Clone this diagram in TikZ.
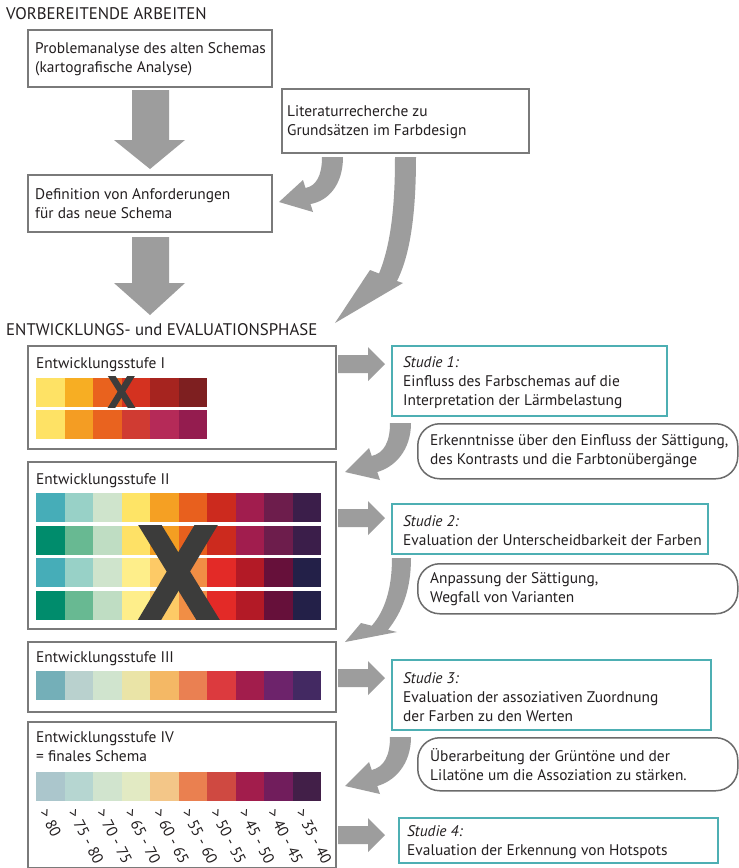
\documentclass[tikz,border=0pt]{standalone}
\usepackage{fontspec}
\setmainfont{PT Sans}

\definecolor{ink}{HTML}{231F20}
\definecolor{boxgray}{HTML}{7A7A7A}
\definecolor{studyteal}{HTML}{4DAFB3}
\definecolor{notegray}{HTML}{6B6B6B}
\definecolor{arrowgray}{HTML}{9D9D9D}
\definecolor{crossdark}{HTML}{3C3C3B}

% one row of colour swatches: x, y, list of HTML colours
\newcommand\swatchrow[3]{%
  \foreach \h [count=\i from 0] in {#3} {%
    \definecolor{swatch}{HTML}{\h}%
    \fill[swatch] ({#1+28.5*\i},#2) rectangle ++(28.5,29);
  }%
}

\begin{document}
\begin{tikzpicture}[x=1pt, y=-1pt,
  every node/.style={text=ink, font=\fontsize{15.4}{19}\selectfont},
  plainbox/.style={draw=boxgray, line width=1.8pt, anchor=north west, inner sep=0pt},
  stagebox/.style={draw=boxgray, line width=2pt, anchor=north west, inner sep=0pt},
  studybox/.style={draw=studyteal, line width=2pt, anchor=north west, inner sep=0pt},
  notebox/.style={draw=notegray, line width=1.5pt, rounded corners=22pt, anchor=north west, inner sep=0pt},
  boxtext/.style={anchor=west, align=left, inner sep=0pt},
  heading/.style={anchor=base west, inner sep=0pt},
  section/.style={anchor=base west, inner sep=0pt, font=\fontsize{16.8}{20}\selectfont},
  blockarrow/.style={fill=arrowgray, draw=none},
  cross/.style={draw=crossdark, line cap=butt}
]
\useasboundingbox (0,0) rectangle (739,868);
\fill[white] (0,0) rectangle (739,868);

% ---------- preparatory work ----------
\node[section] (prep) at (6,19) {VORBEREITENDE ARBEITEN};

\node[plainbox, minimum width=244pt, minimum height=57pt] (prob) at (27,29) {};
\node[boxtext] (probtxt) at ([xshift=8pt,yshift=-1pt]prob.west) {Problemanalyse des alten Schemas\\(kartografische Analyse)};

\node[plainbox, minimum width=247pt, minimum height=64pt] (lit) at (281,88) {};
\node[boxtext] (littxt) at ([xshift=6pt,yshift=-1pt]lit.west) {Literaturrecherche zu\\Grundsätzen im Farbdesign};

\node[plainbox, minimum width=244pt, minimum height=57pt] (req) at (27,174) {};
\node[boxtext] (reqtxt) at ([xshift=8pt]req.west) {Definition von Anforderungen\\für das neue Schema};

% straight block arrows
\fill[blockarrow] (132,90) -- (169,90) -- (169,140) -- (185,140) -- (150,169) -- (114,140) -- (132,140) -- cycle;
\fill[blockarrow] (132,237) -- (169,237) -- (169,283) -- (185,283) -- (150,315) -- (114,283) -- (132,283) -- cycle;

% bent arrows leaving the literature box
\fill[blockarrow] (322,157) .. controls (322,176) and (316,186) .. (305.5,188) -- (303,180) -- (279,202) -- (313,212) -- (310.5,204) .. controls (328,201) and (343,185) .. (343,157) -- cycle;
\fill[blockarrow] (395,157) .. controls (395,200) and (392,242) .. (379,273.5) -- (370,270) -- (335,323) -- (403,283) -- (397,281) .. controls (410,255) and (416,215) .. (416,157) -- cycle;

% ---------- development and evaluation ----------
\node[section] (dev) at (6,335) {ENTWICKLUNGS- und EVALUATIONSPHASE};

% stage I
\node[stagebox, minimum width=308pt, minimum height=103pt] (st1) at (27,345) {};
\node[heading] (st1t) at (36,368) {Entwicklungsstufe I};
\swatchrow{36}{378}{FEE265,F7AE23,E9621E,D43220,A6241F,7E1F20}
\swatchrow{36}{410}{FEE265,F49D23,E9631F,D03B32,B52A58,941C4F}
\begin{scope}
  \clip (100,376) rectangle (145,407);
  \draw[cross, line width=6.5pt] (109.8,373) -- (132.9,410);
  \draw[cross, line width=6.5pt] (132.9,373) -- (110.1,410);
\end{scope}

% stage II
\node[stagebox, minimum width=308pt, minimum height=167pt] (st2) at (27,461) {};
\node[heading] (st2t) at (36,484) {Entwicklungsstufe II};
\swatchrow{36}{493}{46ADB8,98D1C7,CFE4CC,FEE466,F5A023,E8601E,CC2A1E,A11D4E,6D1D4C,3B1E4A}
\swatchrow{36}{525.5}{008C6C,68B992,BFDDC3,FEE166,F49E22,E8601E,CC2A1E,A11D4E,6D1D4C,3B1E4A}
\swatchrow{36}{558}{46ADB8,98D1C7,CFE4CC,FEEE8A,FDCA66,F18E45,E32A27,B31A26,66103A,232048}
\swatchrow{36}{590.5}{008C6C,68B992,BFDDC3,FEEE8A,FDCA66,F18E45,E32A27,B31A26,66103A,232048}
\begin{scope}
  \clip (36,525.5) rectangle (321,619.5);
  \draw[cross, line width=20pt] (144.8,516.7) -- (213.2,628.3);
  \draw[cross, line width=20pt] (211.1,516.7) -- (144.5,628.3);
\end{scope}

% stage III
\node[stagebox, minimum width=308pt, minimum height=70pt] (st3) at (27,641) {};
\node[heading] (st3t) at (36,662) {Entwicklungsstufe III};
\swatchrow{36}{671}{74AFB8,B9D1CE,D0E4CE,EAE4A7,F4B865,EA8052,DC3A3E,A21D4C,6D236B,432962}

% stage IV
\node[stagebox, minimum width=308pt, minimum height=146pt] (st4) at (27,721) {};
\node[heading] (st4t) at (36,742) {Entwicklungsstufe IV};
\node[heading] (st4u) at (36,761) {= finales Schema};
\swatchrow{36}{772}{ABC6CC,B6D6D1,D1E4CE,E2EAC3,F3C688,EA8050,CF4941,A21D4C,711D5C,421F48}
\foreach \l [count=\i from 0] in {{> 80},{> 75 - 80},{> 70 - 75},{> 65 - 70},{> 60 - 65},{> 55 - 60},{> 50 - 55},{> 45 - 50},{> 40 - 45},{> 35 - 40}}
  \node[rotate=-63, anchor=west, inner sep=0pt] (val\i) at ({36+28.5*\i+8},810) {\l};

% studies
\node[studybox, minimum width=275pt, minimum height=70pt] (s1) at (391,345) {};
\node[boxtext] (s1t) at ([xshift=12pt,yshift=-2pt]s1.west) {\textit{Studie 1:}\\Einfluss des Farbschemas auf die\\Interpretation der Lärmbelastung};

\node[studybox, minimum width=316pt, minimum height=50pt] (s2) at (391,503) {};
\node[boxtext] (s2t) at ([xshift=12pt,yshift=-2pt]s2.west) {\textit{Studie 2:}\\Evaluation der Unterscheidbarkeit der Farben};

\node[studybox, minimum width=319pt, minimum height=70pt] (s3) at (391,659) {};
\node[boxtext] (s3t) at ([xshift=12pt,yshift=-2pt]s3.west) {\textit{Studie 3:}\\Evaluation der assoziativen Zuordnung\\der Farben zu den Werten};

\node[studybox, minimum width=319pt, minimum height=45pt] (s4) at (398,817) {};
\node[boxtext] (s4t) at ([xshift=9pt,yshift=-2pt]s4.west) {\textit{Studie 4:}\\Evaluation der Erkennung von Hotspots};

% findings
\node[notebox, minimum width=320pt, minimum height=55pt] (n1) at (417,423) {};
\node[boxtext] (n1t) at ([xshift=13pt]n1.west) {Erkenntnisse über den Einfluss der Sättigung,\\des Kontrasts und die Farbtonübergänge};

\node[notebox, minimum width=320pt, minimum height=50pt] (n2) at (417,563) {};
\node[boxtext] (n2t) at ([xshift=13pt]n2.west) {Anpassung der Sättigung,\\Wegfall von Varianten};

\node[notebox, minimum width=320pt, minimum height=53pt] (n3) at (417,737) {};
\node[boxtext] (n3t) at ([xshift=13pt]n3.west) {Überarbeitung der Grüntöne und der\\Lilatöne um die Assoziation zu stärken.};

% arrows from stages to studies
\foreach \c in {364,518,678,835}
  \fill[blockarrow] (338,\c-9) -- (368,\c-9) -- (368,\c-17) -- (385,\c) -- (368,\c+17) -- (368,\c+9) -- (338,\c+9) -- cycle;

% bent arrows back to the next stage
\fill[blockarrow] (390,423) .. controls (390,442) and (384,453) .. (371.75,456) -- (369,448) -- (345,472) -- (380,480) -- (377.25,472) .. controls (395,467) and (411,450) .. (411,423) -- cycle;
\fill[blockarrow] (392,558) .. controls (392,590) and (384,612) .. (371.8,625.7) -- (361,623) -- (345,642) -- (397,632) -- (388,629.75) .. controls (402,612) and (411,590) .. (411,558) -- cycle;
\fill[blockarrow] (390,737) .. controls (390,756) and (384,767) .. (371.75,770) -- (369,762) -- (345,786) -- (380,794) -- (377.25,786) .. controls (395,781) and (411,764) .. (411,737) -- cycle;

\end{tikzpicture}
\end{document}
